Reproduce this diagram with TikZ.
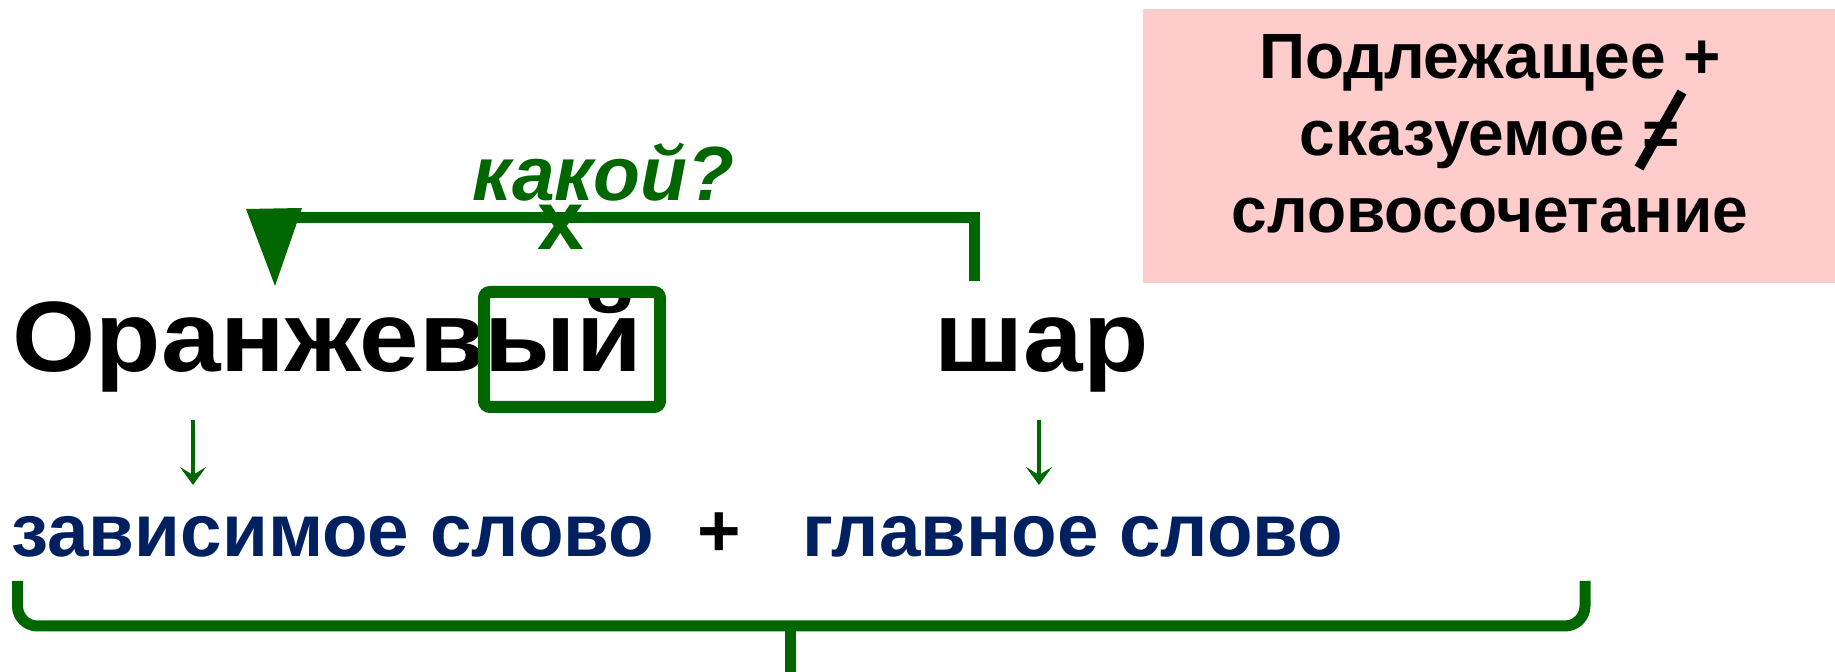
\documentclass[tikz,border=0pt]{standalone}
\usepackage{fontspec}
\usepackage{graphicx}
\setmainfont{Liberation Sans}
\usetikzlibrary{arrows.meta}
\definecolor{dgreen}{RGB}{0,102,0}
\definecolor{navy}{RGB}{0,32,96}
\definecolor{pinkbg}{RGB}{255,204,204}
\tikzset{
  bigword/.style={inner sep=0pt, anchor=base west, font=\fontsize{50pt}{60pt}\selectfont\bfseries},
  blueword/.style={inner sep=0pt, anchor=base west, text=navy, font=\fontsize{37.3pt}{45pt}\selectfont\bfseries},
  pinkline/.style={inner sep=0pt, anchor=base, font=\fontsize{32pt}{38pt}\selectfont\bfseries},
  greenline/.style={draw=dgreen, line width=5.5pt},
  smallarrow/.style={draw=dgreen, line width=2pt, -{Stealth[length=9pt, width=13pt, inset=4pt]}},
}
\begin{document}
\begin{tikzpicture}[x=0.5pt,y=-0.5pt]
\useasboundingbox (0,0) rectangle (1835,672);
% pink box
\fill[pinkbg] (1143,9) rectangle (1835,283);
\node[pinkline] (p1) at (1490,79) {Подлежащее +};
\node[pinkline] (p2) at (1490,156) {сказуемое =};
\node[pinkline] (p3) at (1490,233) {словосочетание};
\coordinate (s1) at (1682,92);
\coordinate (s2) at (1639,168);
\draw[line width=5pt] (s1) -- (s2);
% main words
\node[bigword] (w1) at (12,372) {\scalebox{1.07}[1]{Оранжевый}};
\node[bigword] (w2) at (934,372) {\scalebox{1.07}[1]{шар}};
% box around ending
\draw[dgreen, line width=6pt, rounded corners=3pt] (484,292) rectangle (660,407);
% question connector
\coordinate (c1) at (974,281);
\coordinate (c2) at (974,217.5);
\coordinate (c3) at (285,217.5);
\draw[greenline] (c1) -- (c2) -- (c3);
\fill[dgreen] (246,209) -- (302,208) -- (275,286) -- cycle;
\node[inner sep=0pt, anchor=base west, text=dgreen, font=\fontsize{38.4pt}{46pt}\selectfont\bfseries\itshape] (q) at (472,201) {какой?};
\node[inner sep=0pt, anchor=base, text=dgreen, font=\fontsize{42pt}{50pt}\selectfont\bfseries] (x) at (561,250) {х};
% small arrows
\coordinate (a1) at (193,420);
\coordinate (a2) at (193,485);
\coordinate (b1) at (1039,420);
\coordinate (b2) at (1039,485);
\draw[smallarrow] (a1) -- (a2);
\draw[smallarrow] (b1) -- (b2);
% blue words
\node[blueword] (d1) at (11,557) {зависимое слово};
\node[inner sep=0pt, anchor=base west, font=\fontsize{37.3pt}{45pt}\selectfont\bfseries] (plus) at (697,557) {+};
\node[blueword] (d2) at (802,557) {главное слово};
% brace
\coordinate (br1) at (17.5,581);
\coordinate (br2) at (17.5,626);
\coordinate (br3) at (1585,626);
\coordinate (br4) at (1585,581);
\coordinate (bm1) at (790,626);
\coordinate (bm2) at (790,672);
\draw[greenline, rounded corners=10pt] (br1) -- (br2) -- (br3) -- (br4);
\draw[dgreen, line width=5.5pt] (bm1) -- (bm2);
\end{tikzpicture}
\end{document}
